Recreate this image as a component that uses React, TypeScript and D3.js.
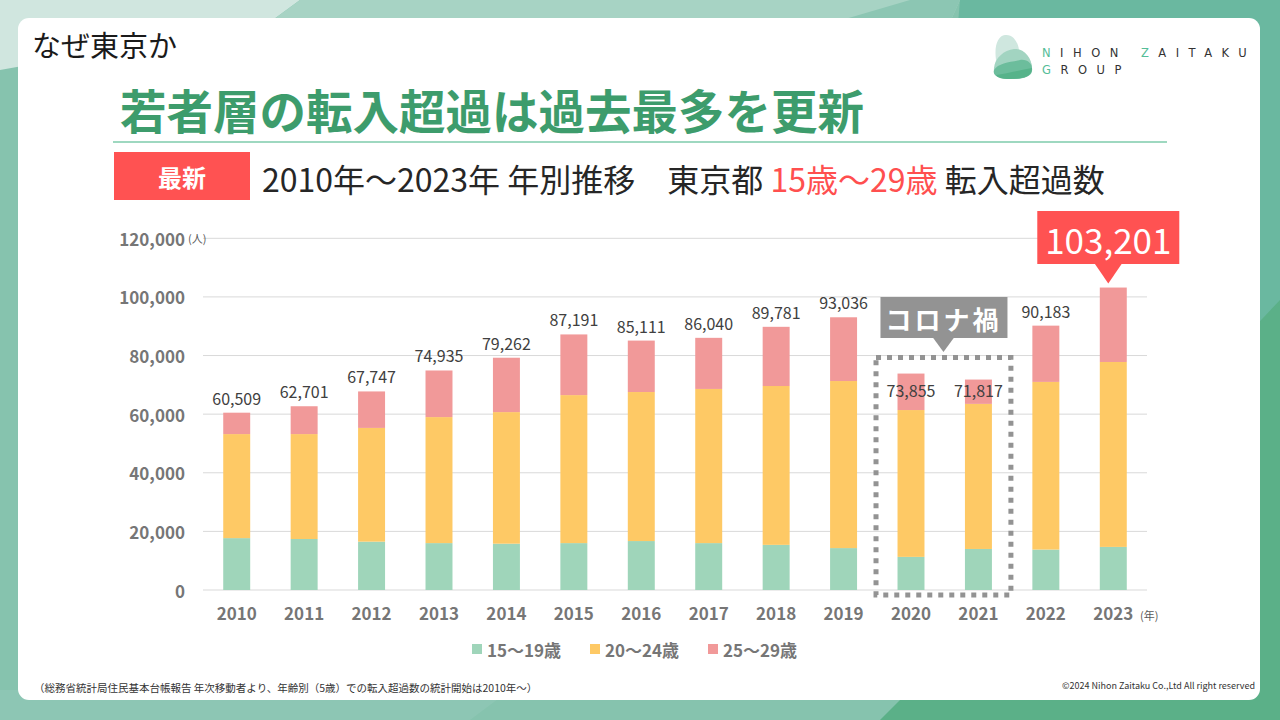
import React from 'react';
import * as d3 from 'd3';

const years = ['2010', '2011', '2012', '2013', '2014', '2015', '2016', '2017', '2018', '2019', '2020', '2021', '2022', '2023'];
const age15to19 = [17700, 17400, 16500, 16000, 15800, 16000, 16700, 16000, 15400, 14300, 11300, 14000, 13800, 14700];
const age20to24 = [35500, 35800, 38800, 43000, 44900, 50500, 50850, 52600, 54200, 57000, 50100, 49500, 57200, 63100];
const age25to29 = [7300, 9500, 12450, 15900, 18550, 20700, 17550, 17440, 20200, 21750, 12450, 8300, 19200, 25400];
const totals = [60509, 62701, 67747, 74935, 79262, 87191, 85111, 86040, 89781, 93036, 73855, 71817, 90183, 103201];
const yTicks = [0, 20000, 40000, 60000, 80000, 100000, 120000];
const seriesKeys = ['15～19歳', '20～24歳', '25～29歳'];
const seriesColors = ['#9fd5ba', '#fec965', '#f19999'];
const covidYears = ['2020', '2021'];
const recordYear = '2023';

const FONT = '"Noto Sans CJK JP", "Noto Sans", sans-serif';
const AXIS_GREY = '#767676';

export default function App() {
  const W = 1280;
  const H = 720;

  const rows = years.map((y, i) => ({
    year: y,
    [seriesKeys[0]]: age15to19[i],
    [seriesKeys[1]]: age20to24[i],
    [seriesKeys[2]]: age25to29[i],
  }));
  const stacked = d3.stack<any>().keys(seriesKeys)(rows);

  const x = d3.scaleBand().domain(years).range([203, 1147]).paddingInner(0.6).paddingOuter(0.3);
  const y = d3.scaleLinear().domain([0, 120000]).range([590, 238.3]);
  const bw = x.bandwidth();
  const fmt = d3.format(',');

  // dotted box around the covid years
  const boxL = (x('2020') || 0) - 21.5;
  const boxR = (x('2021') || 0) + bw + 19;
  const boxT = y(80000) + 2;
  const boxB = y(0) + 5;
  const boxCx = (boxL + boxR) / 2;

  // record callout
  const recX = (x(recordYear) || 0) + bw / 2 - 5;
  const recTip = y(totals[years.indexOf(recordYear)]) - 4;

  return (
    <svg width={W} height={H} style={{ position: 'fixed', left: 0, top: 0, display: 'block' }} fontFamily={FONT}>
      {/* background */}
      <rect width={W} height={H} fill="#86c3ae" />
      <polygon points="0,0 300,0 270,22 0,70" fill="#d0e6df" />
      <polygon points="300,0 960,0 950,22 270,22" fill="#a7d3c4" />
      <polygon points="910,0 960,0 950,22 835,22" fill="#8cc6b3" />
      <polygon points="960,0 1280,0 1280,720 900,720" fill="#6ab8a0" />
      <polygon points="1280,300 1280,720 880,720 905,695" fill="#5bb088" />
      <polygon points="0,690 510,690 470,720 0,720" fill="#8dc6b4" />
      <rect x={18} y={18} width={1242} height={682} rx={11} fill="#ffffff" />

      {/* header */}
      <text x={32} y={44} fontSize={29} fill="#1a1a1a" dominantBaseline="central">なぜ東京か</text>
      <text x={120} y={108} fontSize={46.5} fontWeight={700} fill="#3d9c6c" dominantBaseline="central">若者層の転入超過は過去最多を更新</text>
      <line x1={113} x2={1167} y1={142} y2={142} stroke="#7ecbab" strokeWidth={1.5} />

      {/* logo */}
      <g>
        <path d="M996,60 C994,45 998,36 1005,35 C1013,34 1018,42 1019,50 C1027,54 1033,62 1032,70 C1031,78 1020,79 1010,79 C998,79 993,72 996,60 Z" fill="#cfe7df" />
        <path d="M994,68 C995,58 1004,50 1014,49 C1024,48 1032,58 1032,68 C1032,78 1020,79 1010,79 C999,79 993,75 994,68 Z" fill="#a2d4c1" />
        <path d="M994,70 C998,63 1010,62 1020,60 C1028,59 1033,64 1032,71 C1031,78 1020,79 1010,79 C1000,79 992,76 994,70 Z" fill="#6cbd9c" />
        <path d="M996,75 C1006,74 1020,70 1032,68 C1032,77 1022,79 1010,79 C1002,79 998,78 996,75 Z" fill="#56b38a" />
        <text x={1042} y={57} fontSize={11.5} letterSpacing={9.5} fill="#333" fontFamily='"DejaVu Sans", sans-serif'>
          <tspan fill="#55bd98">N</tspan>IHON <tspan fill="#55bd98">Z</tspan>AITAKU
        </text>
        <text x={1042} y={74} fontSize={11.5} letterSpacing={9.5} fill="#333" fontFamily='"DejaVu Sans", sans-serif'>
          <tspan fill="#55bd98">G</tspan>ROUP
        </text>
      </g>

      {/* subheader */}
      <rect x={114} y={152} width={136} height={48} fill="#ff5252" />
      <text x={182} y={176} fontSize={24} fontWeight={700} fill="#fff" textAnchor="middle" dominantBaseline="central">最新</text>
      <text x={262} y={178} fontSize={32} fill="#262626" dominantBaseline="central">
        2010年～2023年 年別推移　東京都 <tspan fill="#ff4f4f">15歳～29歳</tspan> 転入超過数
      </text>

      {/* grid + y axis */}
      {yTicks.map((t) => (
        <g key={t}>
          <line x1={203} x2={1147} y1={y(t)} y2={y(t)} stroke="#d9d9d9" strokeWidth={1} />
          <text x={185} y={y(t)} fontSize={17} fontWeight={700} fill={AXIS_GREY} textAnchor="end" dominantBaseline="central">
            {fmt(t)}
          </text>
        </g>
      ))}
      <text x={188} y={y(120000)} fontSize={11} fill="#595959" dominantBaseline="central">(人)</text>

      {/* bars */}
      {stacked.map((s, si) => (
        <g key={s.key} fill={seriesColors[si]}>
          {s.map((d: any) => (
            <rect key={d.data.year} x={x(d.data.year)} y={y(d[1])} width={bw} height={y(d[0]) - y(d[1])} />
          ))}
        </g>
      ))}

      {/* total labels */}
      {years.map((yr, i) => {
        if (yr === recordYear) return null;
        const cx = (x(yr) || 0) + bw / 2;
        const ly = covidYears.includes(yr) ? boxT + 32 : y(totals[i]) - 15;
        return (
          <text key={yr} x={cx} y={ly} fontSize={16} fill="#404040" textAnchor="middle" dominantBaseline="central">
            {fmt(totals[i])}
          </text>
        );
      })}

      {/* x axis labels */}
      {years.map((yr) => (
        <text key={yr} x={(x(yr) || 0) + bw / 2} y={612} fontSize={17} fontWeight={700} fill={AXIS_GREY} textAnchor="middle" dominantBaseline="central">
          {yr}
        </text>
      ))}
      <text x={1140} y={615} fontSize={11} fill="#595959" dominantBaseline="central">(年)</text>

      {/* covid annotation */}
      <rect x={boxL} y={boxT} width={boxR - boxL} height={boxB - boxT} fill="none" stroke="#939393" strokeWidth={5} strokeDasharray="5 6" />
      <rect x={boxCx - 63} y={297} width={127} height={41} fill="#939393" />
      <polygon points={`${boxCx - 11},337 ${boxCx + 11},337 ${boxCx},352`} fill="#939393" />
      <text x={boxCx} y={318} fontSize={26} fontWeight={700} fill="#fff" textAnchor="middle" dominantBaseline="central" letterSpacing={3}>
        コロナ禍
      </text>

      {/* record callout */}
      <rect x={recX - 71} y={211} width={142} height={53} fill="#ff5252" />
      <polygon points={`${recX - 14},263 ${recX + 14},263 ${recX},${recTip}`} fill="#ff5252" />
      <text x={recX} y={238} fontSize={35} fontWeight={400} fill="#fff" textAnchor="middle" dominantBaseline="central">
        {fmt(totals[years.indexOf(recordYear)])}
      </text>

      {/* legend */}
      {seriesKeys.map((k, i) => {
        const lx = 472 + i * 118;
        return (
          <g key={k}>
            <rect x={lx} y={644} width={10} height={10} fill={seriesColors[i]} />
            <text x={lx + 15} y={649} fontSize={17} fontWeight={700} fill={AXIS_GREY} dominantBaseline="central">{k}</text>
          </g>
        );
      })}

      {/* footer */}
      <text x={34} y={687} fontSize={10.5} fill="#333" dominantBaseline="central">
        （総務省統計局住民基本台帳報告 年次移動者より、年齢別（5歳）での転入超過数の統計開始は2010年～）
      </text>
      <text x={1255} y={685} fontSize={9} fill="#333" textAnchor="end" dominantBaseline="central">
        ©2024 Nihon Zaitaku Co.,Ltd All right reserved
      </text>
    </svg>
  );
}
